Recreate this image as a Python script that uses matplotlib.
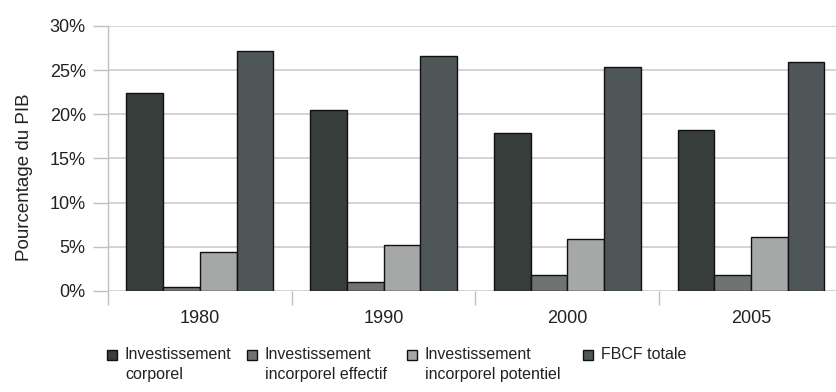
import matplotlib
matplotlib.use("Agg")
import matplotlib.pyplot as plt
import numpy as np
from matplotlib.patches import Rectangle
from matplotlib.ticker import FuncFormatter

# share of GDP (%) by year
years = ["1980", "1990", "2000", "2005"]
corporel = [22.4, 20.5, 17.9, 18.2]
incorporel_effectif = [0.5, 1.0, 1.8, 1.8]
incorporel_potentiel = [4.4, 5.2, 5.9, 6.1]
fbcf_totale = [27.2, 26.6, 25.4, 25.9]

labels = [
    "Investissement\ncorporel",
    "Investissement\nincorporel effectif",
    "Investissement\nincorporel potentiel",
    "FBCF totale",
]
colors = ["#363d3b", "#6f7372", "#a6a8a7", "#4f5658"]

W, H = 837, 392


def px(x, y):
    # pixel position (from top-left) -> figure fraction
    return x / W, 1 - y / H


def main():
    plt.rcParams['font.family'] = ['Liberation Sans', 'DejaVu Sans']

    fig = plt.figure(figsize=(W / 100, H / 100), dpi=100)
    ax = fig.add_axes([0.129, 0.2577, 0.878, 0.676])

    x = np.arange(len(years))
    width = 0.2
    series = [corporel, incorporel_effectif, incorporel_potentiel, fbcf_totale]
    for i, (vals, lab, col) in enumerate(zip(series, labels, colors)):
        ax.bar(x + (i - 1.5) * width, vals, width, color=col, edgecolor="#111111",
               linewidth=1.0, label=lab, zorder=3)

    ax.set_xlim(-0.5, len(years) - 0.5)
    ax.set_ylim(0, 30)
    ax.set_yticks(np.arange(0, 31, 5))
    ax.yaxis.set_major_formatter(FuncFormatter(lambda v, _: "{:.0f}%".format(v)))
    ax.yaxis.grid(True, color="#d0d0d0", linewidth=1.3, zorder=0)

    ax.set_xticks(x)
    ax.set_xticklabels(years)
    ax.set_xticks(np.arange(-0.5, len(years), 1), minor=True)
    ax.tick_params(axis="x", which="major", length=0, pad=14, labelsize=13, labelcolor="#222222")
    ax.tick_params(axis="x", which="minor", length=10, width=1.0, color="#c0c0c0")
    ax.tick_params(axis="y", length=11, width=1.0, color="#c0c0c0", pad=5,
                   labelsize=13, labelcolor="#222222")

    for side in ["top", "right", "bottom"]:
        ax.spines[side].set_visible(False)
    ax.spines["left"].set_color("#c0c0c0")
    ax.spines["left"].set_linewidth(1.0)

    ax.set_ylabel("Pourcentage du PIB", fontsize=13.5, color="#222222")
    ax.yaxis.set_label_coords(-0.102, 0.43)

    # legend: square swatch aligned with the first line of each label
    swatch_x = [107, 247, 407, 583]
    for sx, lab, col in zip(swatch_x, labels, colors):
        x0, y0 = px(sx, 360)
        fig.add_artist(Rectangle((x0, y0), 10 / W, 10 / H, transform=fig.transFigure,
                                 facecolor=col, edgecolor="#111111", linewidth=1.0))
        tx, ty = px(sx + 18, 347)
        fig.text(tx, ty, lab, fontsize=11.5, color="#222222", va="top", ha="left",
                 linespacing=1.45)

    fig.savefig("out.png", dpi=100)


if __name__ == "__main__":
    main()
